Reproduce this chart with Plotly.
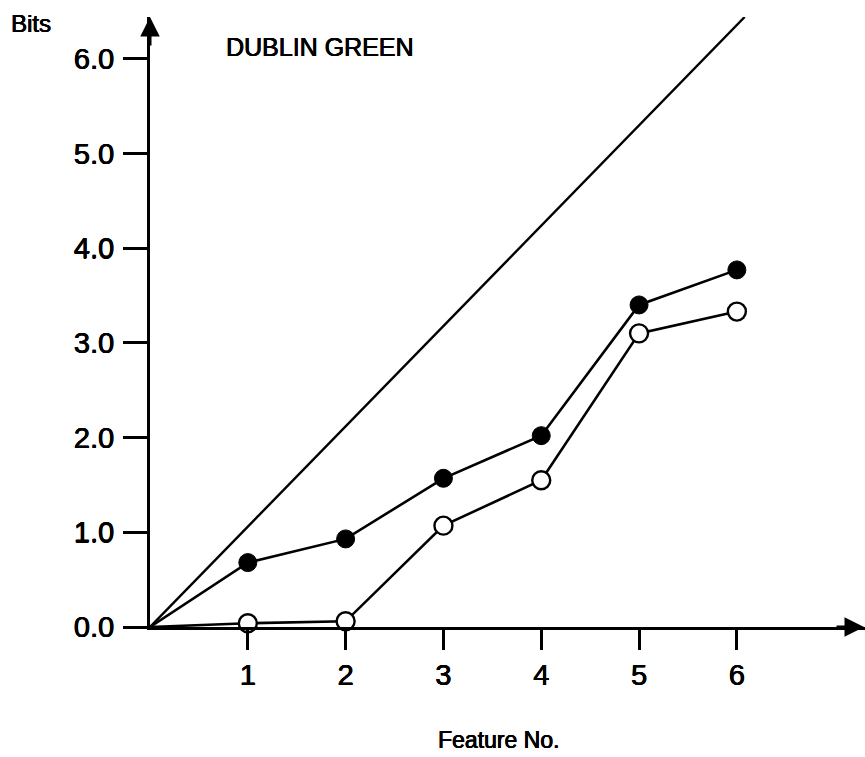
import plotly.graph_objects as go

# Data
features = [1, 2, 3, 4, 5, 6]
bits_filled = [0.68, 0.93, 1.57, 2.02, 3.40, 3.77]
bits_open = [0.04, 0.06, 1.07, 1.55, 3.10, 3.33]
diag_x = [0, 6.08]
diag_y = [0, 6.44]
x_ticks = [1, 2, 3, 4, 5, 6]
y_ticks = [0, 1, 2, 3, 4, 5, 6]
y_tick_text = ["0.0", "1.0", "2.0", "3.0", "4.0", "5.0", "6.0"]

FONT = "Liberation Sans, Arial, Helvetica, sans-serif"
SHADOW = "0.4px 0px 0px black, -0.3px 0px 0px black, 0px 0.3px 0px black"

fig = go.Figure()

fig.add_trace(go.Scatter(
    x=diag_x, y=diag_y, mode="lines",
    line=dict(color="black", width=2.4), hoverinfo="skip", showlegend=False))

fig.add_trace(go.Scatter(
    x=[0] + features, y=[0] + bits_filled, mode="lines",
    line=dict(color="black", width=2.6), showlegend=False, hoverinfo="skip"))
fig.add_trace(go.Scatter(
    x=features, y=bits_filled, mode="markers",
    marker=dict(symbol="circle", size=18, color="black",
                line=dict(color="black", width=1)),
    showlegend=False, name="filled"))

fig.add_trace(go.Scatter(
    x=[0] + features, y=[0] + bits_open, mode="lines",
    line=dict(color="black", width=2.6), showlegend=False, hoverinfo="skip"))
fig.add_trace(go.Scatter(
    x=features, y=bits_open, mode="markers",
    marker=dict(symbol="circle", size=18, color="white",
                line=dict(color="black", width=2.4)),
    showlegend=False, name="open", cliponaxis=False))

fig.update_layout(
    width=865, height=757,
    margin=dict(l=150, r=0, t=17, b=130),
    paper_bgcolor="white", plot_bgcolor="white",
    font=dict(family=FONT, color="black"),
    xaxis=dict(
        range=[0, 7.31], showgrid=False, zeroline=False,
        showline=True, linecolor="black", linewidth=3,
        tickmode="array", tickvals=x_ticks, ticktext=[str(v) for v in x_ticks],
        ticks="outside", ticklen=20, tickwidth=3, tickcolor="black",
        ticklabelstandoff=0,
        tickfont=dict(family=FONT, size=29, color="black", shadow=SHADOW),
    ),
    yaxis=dict(
        range=[0, 6.44], showgrid=False, zeroline=False,
        showline=True, linecolor="black", linewidth=3,
        tickmode="array", tickvals=y_ticks, ticktext=y_tick_text,
        ticks="outside", ticklen=24, tickwidth=3, tickcolor="black",
        ticklabelstandoff=3,
        tickfont=dict(family=FONT, size=29, color="black", shadow=SHADOW),
    ),
)

# axis arrowheads
fig.add_annotation(xref="paper", yref="paper", x=1.0, y=0, ax=-30, ay=0,
                   axref="pixel", ayref="pixel", text="", showarrow=True,
                   arrowhead=2, arrowsize=1.3, arrowwidth=3, arrowcolor="black")
fig.add_annotation(xref="paper", yref="paper", x=0, y=1.0, ax=0, ay=30,
                   text="", showarrow=True,
                   arrowhead=2, arrowsize=1.3, arrowwidth=3, arrowcolor="black")

# texts
fig.add_annotation(xref="paper", yref="paper", x=-141 / 715, y=(627 - 24) / 610,
                   xanchor="left", yanchor="middle", text="Bits", showarrow=False,
                   font=dict(family=FONT, size=24, color="black", shadow=SHADOW))
fig.add_annotation(xref="x", yref="y", x=0.76, y=6.12,
                   xanchor="left", yanchor="middle", text="DUBLIN GREEN",
                   showarrow=False,
                   font=dict(family=FONT, size=25, color="black", shadow=SHADOW))
fig.add_annotation(xref="paper", yref="paper", x=(498 - 150) / 715, y=0,
                   xanchor="center", yanchor="middle", yshift=-113,
                   text="Feature No.", showarrow=False,
                   font=dict(family=FONT, size=23, color="black", shadow=SHADOW))

fig.write_html("out.html")
